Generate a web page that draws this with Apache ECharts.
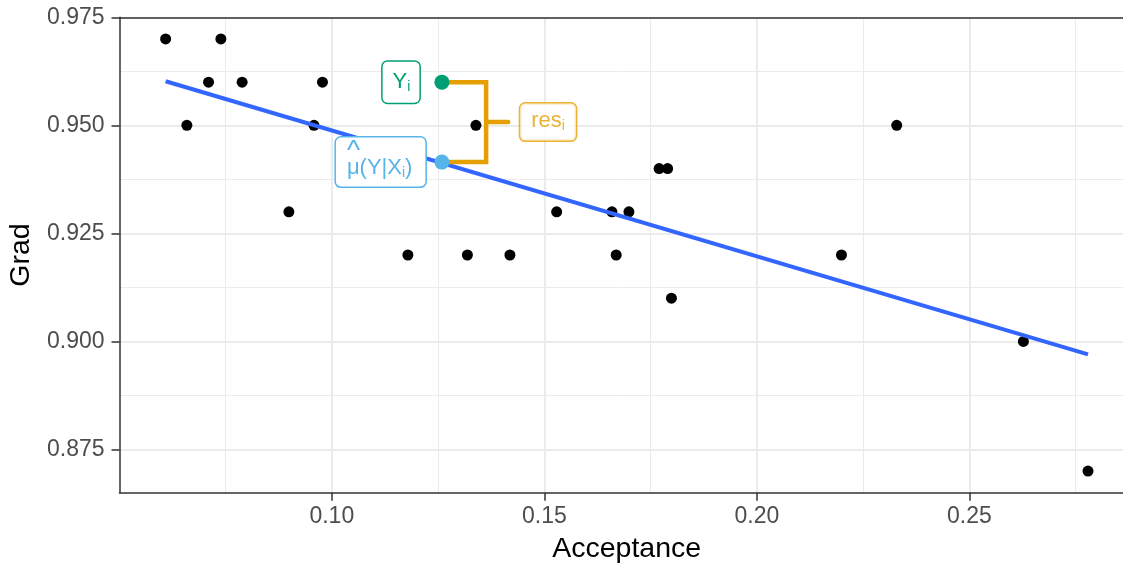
<!DOCTYPE html>
<html>
<head>
<meta charset="utf-8">
<title>Grad vs Acceptance</title>
<script src="https://cdn.jsdelivr.net/npm/echarts@6.0.0/dist/echarts.min.js"></script>
<style>
  html, body { margin: 0; padding: 0; background: #fff; }
  #chart { width: 1123px; height: 566px; }
</style>
</head>
<body>
<div id="chart"></div>
<script>
  // observed points (Acceptance, Grad)
  var acceptance = [0.0609, 0.0659, 0.0710, 0.0739, 0.0789, 0.0899, 0.0958, 0.0978,
    0.1179, 0.1259, 0.1319, 0.1339, 0.1419, 0.1529, 0.1659, 0.1669, 0.1699,
    0.1770, 0.1790, 0.1799, 0.2199, 0.2329, 0.2627, 0.2779];
  var grad = [0.97, 0.95, 0.96, 0.97, 0.96, 0.93, 0.95, 0.96,
    0.92, 0.96, 0.92, 0.95, 0.92, 0.93, 0.93, 0.92, 0.93,
    0.94, 0.94, 0.91, 0.92, 0.95, 0.90, 0.87];

  // fitted line end points
  var fitX = [0.0609, 0.2779];
  var fitY = [0.9602, 0.8970];

  // highlighted observation i and its fitted value
  var obsX = 0.1259;
  var obsY = 0.96;
  var muHat = 0.9415;
  var bracketX = 0.1363;
  var bracketTipX = 0.1415;

  // axis ticks
  var xTicks = [0.10, 0.15, 0.20, 0.25];
  var xMinor = [0.075, 0.125, 0.175, 0.225, 0.275];
  var yTicks = [0.875, 0.900, 0.925, 0.950, 0.975];
  var yMinor = [0.8875, 0.9125, 0.9375, 0.9625];
  var xRange = [0.05005, 0.2887];
  var yRange = [0.865, 0.975];

  var FONT = '"Liberation Sans", Arial, Helvetica, sans-serif';
  var GREEN = '#009E73', BLUE = '#56B4E9', ORANGE = '#E69F00';

  var points = acceptance.map(function (x, i) { return [x, grad[i]]; });
  var fit = fitX.map(function (x, i) { return [x, fitY[i]]; });
  var midY = (obsY + muHat) / 2;

  function richFor(color) {
    return {
      m: { fontSize: 22, color: color, fontFamily: FONT, lineHeight: 25, align: 'left' },
      s: { fontSize: 14, color: color, fontFamily: FONT, lineHeight: 11, verticalAlign: 'bottom', align: 'left' },
      h: { fontSize: 28, color: color, fontFamily: FONT, lineHeight: 8, align: 'left' }
    };
  }

  function boxLabel(color, text, pos, dist, pad) {
    return {
      show: true,
      position: pos,
      distance: dist,
      formatter: text,
      backgroundColor: '#fff',
      borderColor: color,
      borderWidth: 1.5,
      borderRadius: 5,
      padding: pad,
      rich: richFor(color)
    };
  }

  var chart = echarts.init(document.getElementById('chart'), null, { renderer: 'canvas' });

  chart.setOption({
    animation: false,
    backgroundColor: '#fff',
    textStyle: { fontFamily: FONT },
    grid: { left: 119.5, right: -10.9, top: 17.3, bottom: 73.3, outerBoundsMode: 'none' },
    xAxis: [{
      type: 'value', min: xRange[0], max: xRange[1], position: 'bottom',
      name: 'Acceptance', nameLocation: 'middle', nameGap: 42,
      nameTextStyle: { color: '#000', fontSize: 28.5, fontFamily: FONT },
      axisLine: { lineStyle: { color: '#333', width: 1.5 } },
      axisTick: { customValues: xTicks, length: 8, lineStyle: { color: '#333', width: 1.5 } },
      axisLabel: {
        customValues: xTicks, color: '#4d4d4d', fontSize: 23, margin: 12, fontFamily: FONT,
        formatter: function (v) { return v.toFixed(2); }
      },
      splitLine: { show: true, lineStyle: { color: '#ebebeb', width: 2 } }
    }, {
      type: 'value', min: xRange[0], max: xRange[1], position: 'top',
      axisLine: { show: true, lineStyle: { color: '#333', width: 1.5 } },
      axisTick: { show: false, customValues: xMinor },
      axisLabel: { show: false },
      splitLine: { show: true, lineStyle: { color: '#ebebeb', width: 1 } }
    }],
    yAxis: [{
      type: 'value', min: yRange[0], max: yRange[1], position: 'left',
      name: 'Grad', nameLocation: 'middle', nameGap: 83, nameRotate: 90,
      nameTextStyle: { color: '#000', fontSize: 28.5, fontFamily: FONT },
      axisLine: { show: true, lineStyle: { color: '#333', width: 1.5 } },
      axisTick: { show: true, customValues: yTicks, length: 8, lineStyle: { color: '#333', width: 1.5 } },
      axisLabel: {
        customValues: yTicks, color: '#4d4d4d', fontSize: 23, margin: 15, fontFamily: FONT,
        formatter: function (v) { return v.toFixed(3); }
      },
      splitLine: { show: true, lineStyle: { color: '#ebebeb', width: 2 } }
    }, {
      type: 'value', min: yRange[0], max: yRange[1], position: 'right',
      axisLine: { show: false },
      axisTick: { show: false, customValues: yMinor },
      axisLabel: { show: false },
      splitLine: { show: true, lineStyle: { color: '#ebebeb', width: 1 } }
    }],
    series: [{
      name: 'points', type: 'scatter', data: points, symbolSize: 11,
      itemStyle: { color: '#000', opacity: 1 }, z: 2
    }, {
      name: 'fit', type: 'line', data: fit, showSymbol: false, symbol: 'none',
      lineStyle: { color: '#3366FF', width: 4 }, z: 3
    }, {
      name: 'bracket', type: 'line', symbol: 'none',
      data: [[obsX, obsY], [bracketX, obsY], [bracketX, muHat], [obsX, muHat]],
      lineStyle: { color: ORANGE, width: 4.5, join: 'miter', cap: 'butt' }, z: 4
    }, {
      name: 'bracketTip', type: 'line', symbol: 'none',
      data: [[bracketX, midY], [bracketTipX, midY]],
      lineStyle: { color: ORANGE, width: 4.5, cap: 'round' }, z: 4
    }, {
      name: 'res', type: 'scatter', symbolSize: 0,
      data: [{ value: [bracketTipX, midY], label: boxLabel(ORANGE, '{m|res}{s|i}', 'right', 12, [5, 11, 7, 11]) }],
      z: 6
    }, {
      name: 'obs', type: 'scatter', symbolSize: 15,
      itemStyle: { opacity: 1 },
      data: [
        { value: [obsX, obsY], itemStyle: { color: GREEN, opacity: 1 },
          label: boxLabel(GREEN, '{m|Y}{s|i}', 'left', 15, [8, 9, 8, 10]) },
        { value: [obsX, muHat], itemStyle: { color: BLUE, opacity: 1 },
          label: boxLabel(BLUE, '{h|^}\n{m|μ(Y|X}{s|i}{m|)}', 'left', 9, [10, 13, 6, 11]) }
      ],
      z: 6
    }]
  });
</script>
</body>
</html>
